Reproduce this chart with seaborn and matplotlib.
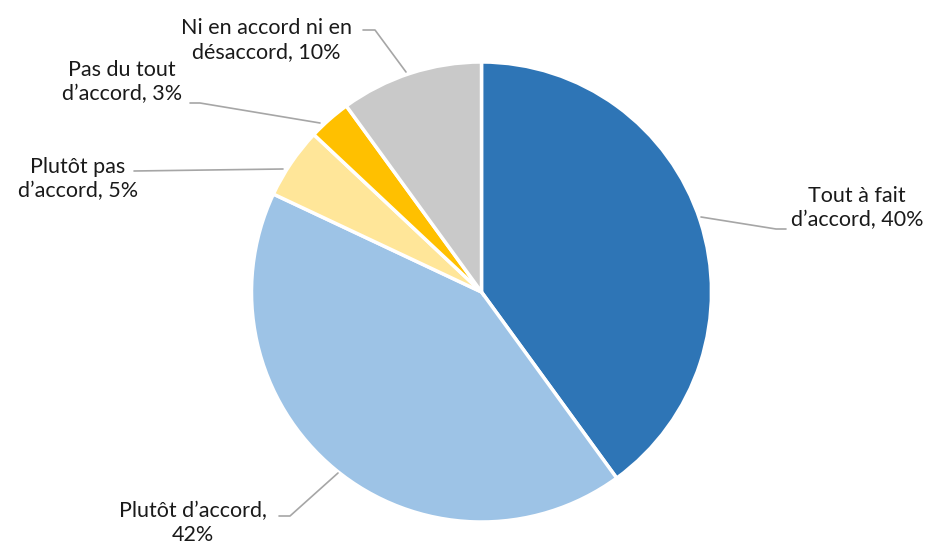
import matplotlib
matplotlib.use("Agg")
import matplotlib.pyplot as plt
import seaborn as sns

# values, clockwise from 12 o'clock
categories = [
    "Tout à fait\nd’accord, ",
    "Plutôt d’accord,\n",
    "Plutôt pas\nd’accord, ",
    "Pas du tout\nd’accord, ",
    "Ni en accord ni en\ndésaccord, ",
]
shares = [40, 42, 5, 3, 10]
colors = ["#2E75B6", "#9DC3E6", "#FFE699", "#FFC000", "#C9C9C9"]

sns.set_theme(style="white")
plt.rcParams["font.family"] = ["Lato", "DejaVu Sans"]

W, H = 930, 544
fig = plt.figure(figsize=(W / 100, H / 100), dpi=100)
ax = fig.add_axes([0, 0, 1, 1])

cx, cy, r = 481.5, H - 292, 230
ax.pie(
    shares,
    colors=colors,
    startangle=90,
    counterclock=False,
    center=(cx, cy),
    radius=r,
    wedgeprops={"edgecolor": "white", "linewidth": 2.5},
    frame=True,
)
ax.set_xlim(0, W)
ax.set_ylim(0, H)
ax.axis("off")

# label centre and leader line points, pixel coords (y down)
layout = [
    (857, 208, [(701, 217), (776, 229), (786, 229)]),
    (193, 523, [(279, 516), (290, 516), (338, 473)]),
    (78, 179, [(134, 171), (283, 169)]),
    (122, 82, [(190, 103), (200, 103), (320, 123)]),
    (266, 40, [(363, 30), (375, 30), (406, 72)]),
]

for cat, val, (x, y, pts) in zip(categories, shares, layout):
    ax.plot([p[0] for p in pts], [H - p[1] for p in pts], color="#A6A6A6", lw=1.2)
    ax.text(x, H - y, f"{cat}{val}%", ha="center", va="center", fontsize=15.5,
            color="#1a1a1a", linespacing=1.2)

fig.savefig("out.png", dpi=100)
